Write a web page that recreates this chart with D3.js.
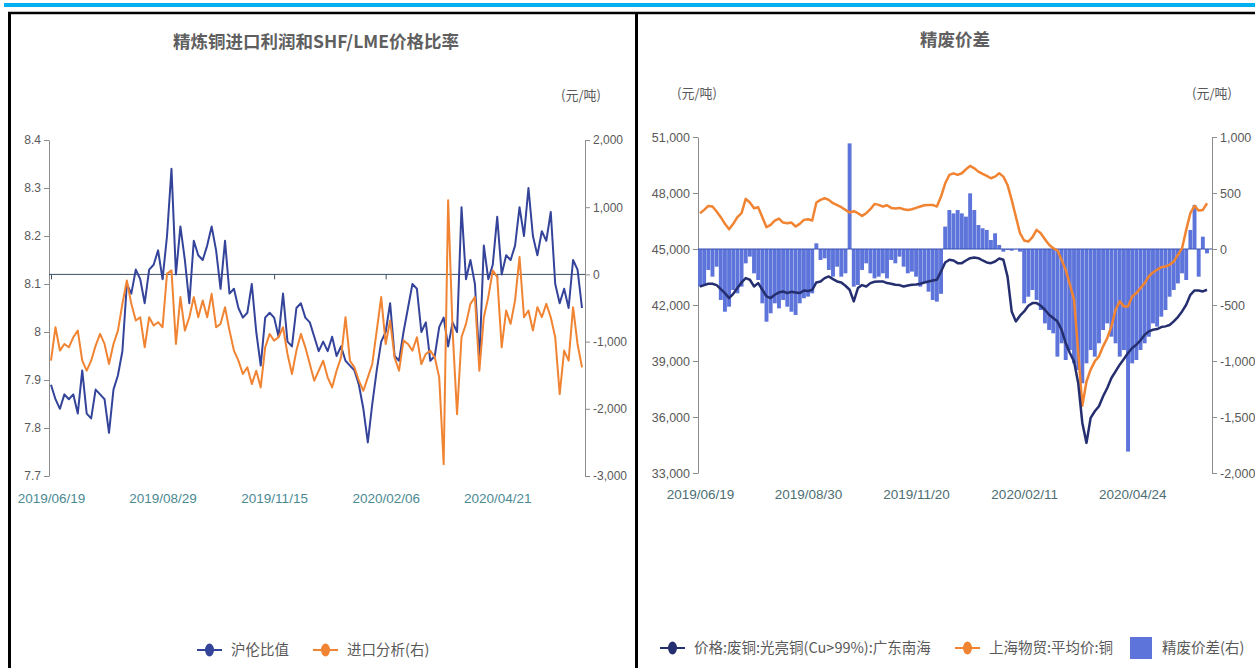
<!DOCTYPE html>
<html>
<head>
<meta charset="utf-8">
<title>精炼铜进口利润 / 精废价差</title>
<script src="https://cdn.jsdelivr.net/npm/d3@7/dist/d3.min.js"></script>
<style>
body { margin: 0; background: #fff; }
svg { display: block; font-family: "Liberation Sans", "Noto Sans CJK SC", sans-serif; }
.axis path, .axis line { stroke: #8c8c8c; }
.axis text { fill: #595959; }
.title { font-family: "Noto Sans CJK SC", sans-serif; font-weight: bold; fill: #5f5f5f; }
.unit, .legend text { font-family: "Noto Sans CJK SC", sans-serif; fill: #595959; }
</style>
</head>
<body>
<svg id="chart" width="1255" height="668"></svg>
<script>
// ---- left chart: 沪伦比值 / 进口分析 (every 2nd trading day)
var leftDates = ["2019/06/19", "2019/08/29", "2019/11/15", "2020/02/06", "2020/04/21"];
var leftDateIdx = [0, 25, 50, 75, 100];
var ratioTicks = [7.7, 7.8, 7.9, 8.0, 8.1, 8.2, 8.3, 8.4];
var profitTicks = [-3000, -2000, -1000, 0, 1000, 2000];

var ratio = [7.89,7.86,7.84,7.87,7.86,7.87,7.83,7.92,7.83,7.82,
  7.88,7.87,7.86,7.79,7.88,7.91,7.96,8.10,8.08,8.13,
  8.11,8.06,8.13,8.14,8.17,8.11,8.20,8.34,8.12,8.22,
  8.15,8.06,8.19,8.16,8.15,8.18,8.22,8.17,8.09,8.19,
  8.08,8.09,8.05,8.03,8.04,8.10,8.00,7.93,8.03,8.04,
  8.03,7.99,8.08,7.98,7.97,8.05,8.06,8.03,8.02,7.99,
  7.96,7.98,7.96,7.99,7.95,7.97,7.94,7.93,7.92,7.89,
  7.84,7.77,7.85,7.92,7.98,8.00,8.06,7.95,7.94,8.00,
  8.05,8.10,8.09,8.00,8.02,7.94,7.95,8.01,8.03,7.97,
  8.02,8.00,8.26,8.11,8.15,8.10,7.94,8.18,8.11,8.14,
  8.24,8.12,8.16,8.15,8.18,8.26,8.20,8.30,8.20,8.16,
  8.21,8.19,8.25,8.10,8.06,8.09,8.05,8.15,8.13,8.05];

var importProfit = [-1284,-786,-1134,-1035,-1085,-935,-836,-1284,-1433,-1284,
  -1060,-886,-1035,-1333,-1035,-836,-438,-90,-438,-686,
  -637,-1085,-637,-761,-711,-786,10,60,-1035,-338,
  -836,-637,-338,-637,-388,-637,-289,-786,-736,-488,
  -836,-1134,-1284,-1483,-1383,-1632,-1433,-1682,-1085,-886,
  -985,-935,-786,-1184,-1483,-1134,-886,-1085,-1333,-1582,
  -1433,-1284,-1532,-1682,-1433,-1234,-637,-1284,-1383,-1582,
  -1732,-1532,-1333,-836,-338,-1035,-686,-1234,-1433,-985,
  -1035,-1134,-935,-1333,-1184,-1134,-1234,-1532,-2826,1104,
  -836,-2080,-935,-736,-438,-338,-1433,-637,-338,60,
  -40,-1085,-537,-736,-388,259,-637,-537,-836,-488,
  -637,-438,-637,-935,-1781,-1134,-1284,-488,-1035,-1383];

// ---- right chart: 精废价差 (every 2nd trading day)
var rightDates = ["2019/06/19", "2019/08/30", "2019/11/20", "2020/02/11", "2020/04/24"];
var rightDateIdx = [0, 26, 52, 78, 104];
var priceTicks = [33000, 36000, 39000, 42000, 45000, 48000, 51000];
var spreadTicks = [-2000, -1500, -1000, -500, 0, 500, 1000];

var scrapPrice = [42994,43066,43137,43137,43066,42852,42638,42370,42602,42905,
  43208,43440,43351,42994,43173,42816,42459,42370,42548,42673,
  42727,42638,42709,42673,42638,42780,42745,42816,43208,43262,
  43440,43529,43386,43262,43208,43030,42816,42192,42905,43066,
  42994,43173,43244,43262,43262,43173,43137,43084,43066,42994,
  43048,43084,43101,43137,43208,43262,43315,43351,43797,44278,
  44421,44385,44242,44242,44385,44510,44545,44510,44385,44278,
  44242,44332,44492,44421,43529,41657,41122,41425,41657,41960,
  42103,42103,41960,41746,41479,41301,41122,40676,39963,39428,
  38983,37824,35684,34614,35951,36308,36575,37110,37556,38091,
  38448,38805,39107,39428,39696,39874,40106,40409,40587,40676,
  40712,40819,40855,40926,41122,41354,41657,42014,42548,42780,
  42780,42727,42816];

var copperAvg = [46917,47095,47309,47274,47006,46703,46347,46061,46347,46703,
  46917,47684,47488,47185,47238,46703,46168,46293,46525,46632,
  46418,46382,46418,46204,46347,46561,46596,46525,47488,47631,
  47720,47631,47452,47345,47238,47095,46953,47024,46917,46774,
  46917,47131,47416,47363,47274,47345,47202,47167,47202,47131,
  47095,47131,47202,47274,47345,47363,47363,47274,47809,48522,
  48967,49056,48967,49057,49270,49449,49324,49146,49021,48914,
  48789,48878,49057,48878,48432,47630,46738,45847,45455,45401,
  45633,46025,45847,45526,45223,45045,44920,44421,43886,43100,
  42300,39500,36600,37900,38537,38983,39250,39785,40231,40855,
  41746,42192,41925,41925,42459,42638,42905,43173,43529,43743,
  43886,44029,44064,44153,44331,44688,45045,46025,46917,47309,
  47060,47095,47452];

var spread = [-336,-321,-187,-247,-158,-455,-560,-515,-366,-396,
  -336,-128,-68,-217,-277,-485,-649,-574,-485,-530,
  -455,-515,-560,-589,-485,-440,-425,-396,51,-98,
  -83,-187,-247,-158,-247,-217,943,-336,-321,-187,
  -128,-217,-262,-247,-217,-262,-98,-128,-68,-158,
  -217,-202,-247,-336,-306,-381,-455,-470,-400,200,
  348,318,348,318,289,497,348,214,185,170,
  80,140,36,-24,-9,-15,-3,-24,-485,-426,
  -366,-455,-545,-664,-723,-753,-961,-842,-991,-902,
  -1021,-1080,-1199,-1021,-902,-961,-842,-723,-664,-783,
  -842,-961,-902,-1809,-1021,-991,-902,-842,-783,-664,
  -693,-604,-545,-426,-366,-307,-217,-277,170,393,
  -247,110,-39];

var BLUE = "#34449a", NAVY = "#252f70", ORANGE = "#f08432", BAR = "#5d74da";

var svg = d3.select("#chart");
var dash = function(d) { return d3.format(",")(d).replace("\u2212", "-"); };

// frame
svg.append("rect").attr("x", 4).attr("y", 3).attr("width", 1251).attr("height", 4).attr("fill", "#00b0f0");
svg.append("line").attr("x1", 8).attr("x2", 1255).attr("y1", 13).attr("y2", 13).attr("stroke", "#000").attr("stroke-width", 2.5);
svg.append("line").attr("x1", 9.5).attr("x2", 9.5).attr("y1", 12).attr("y2", 668).attr("stroke", "#000").attr("stroke-width", 3);
svg.append("line").attr("x1", 636.5).attr("x2", 636.5).attr("y1", 12).attr("y2", 668).attr("stroke", "#000").attr("stroke-width", 3);

function legendItem(g, x, y, color, label, square) {
  if (square) {
    g.append("rect").attr("x", x).attr("y", y - 11).attr("width", 22).attr("height", 22).attr("fill", color);
    g.append("text").attr("x", x + 32).attr("y", y + 5).attr("font-size", 14.5).text(label);
  } else {
    g.append("line").attr("x1", x).attr("x2", x + 25).attr("y1", y).attr("y2", y).attr("stroke", color).attr("stroke-width", 2);
    g.append("ellipse").attr("cx", x + 12.5).attr("cy", y).attr("rx", 4.5).attr("ry", 6.5).attr("fill", color);
    g.append("text").attr("x", x + 34).attr("y", y + 5).attr("font-size", 14.5).text(label);
  }
}

// ================= left chart
var xL = d3.scaleLinear().domain([0, ratio.length - 1]).range([51, 582]);
var yL1 = d3.scaleLinear().domain([7.7, 8.4]).range([476, 140]);
var yL2 = d3.scaleLinear().domain([-3000, 2000]).range([476, 140]);
var gL = svg.append("g");

gL.append("text").attr("class", "title").attr("x", 316).attr("y", 48).attr("text-anchor", "middle")
  .attr("font-size", 17.5).text("精炼铜进口利润和SHF/LME价格比率");
gL.append("text").attr("class", "unit").attr("x", 581).attr("y", 100).attr("text-anchor", "middle")
  .attr("font-size", 13).text("(元/吨)");

gL.append("g").attr("class", "axis").attr("transform", "translate(49,0)")
  .call(d3.axisLeft(yL1).tickValues(ratioTicks).tickSize(5).tickSizeOuter(0)
    .tickFormat(function(d) { return String(+d.toFixed(1)); }))
  .selectAll("text").attr("font-size", 12);
gL.append("g").attr("class", "axis").attr("transform", "translate(585,0)")
  .call(d3.axisRight(yL2).tickValues(profitTicks).tickSize(5).tickSizeOuter(0).tickFormat(dash))
  .selectAll("text").attr("font-size", 12);

// category axis on the zero line of the right scale
gL.append("g").attr("transform", "translate(0," + yL2(0) + ")")
  .call(d3.axisBottom(xL).tickValues(leftDateIdx).tickSize(5).tickSizeOuter(0).tickFormat(""))
  .call(function(g) {
    g.select(".domain").attr("stroke", "#3c4f63").attr("d", "M49,0H585");
    g.selectAll("line").attr("stroke", "#3c4f63");
  });
gL.append("g").attr("transform", "translate(0,490)")
  .call(d3.axisBottom(xL).tickValues(leftDateIdx).tickSize(0)
    .tickFormat(function(d, i) { return leftDates[i]; }))
  .call(function(g) {
    g.select(".domain").remove();
    g.selectAll("text").attr("fill", "#4b8a93").attr("font-size", 13.5);
  });

gL.append("path").datum(ratio).attr("fill", "none").attr("stroke", BLUE).attr("stroke-width", 2)
  .attr("stroke-linejoin", "round")
  .attr("d", d3.line().x(function(d, i) { return xL(i); }).y(function(d) { return yL1(d); }));
gL.append("path").datum(importProfit).attr("fill", "none").attr("stroke", ORANGE).attr("stroke-width", 2)
  .attr("stroke-linejoin", "round")
  .attr("d", d3.line().x(function(d, i) { return xL(i); }).y(function(d) { return yL2(d); }));

var legL = gL.append("g").attr("class", "legend");
legendItem(legL, 197, 650, BLUE, "沪伦比值");
legendItem(legL, 313, 650, ORANGE, "进口分析(右)");

// ================= right chart
var xR = d3.scaleLinear().domain([0, spread.length - 1]).range([700, 1207]);
var yR1 = d3.scaleLinear().domain([33000, 51000]).range([473, 137]);
var yR2 = d3.scaleLinear().domain([-2000, 1000]).range([473, 137]);
var gR = svg.append("g");

gR.append("text").attr("class", "title").attr("x", 955).attr("y", 46).attr("text-anchor", "middle")
  .attr("font-size", 17.5).text("精废价差");
gR.append("text").attr("class", "unit").attr("x", 697).attr("y", 98).attr("text-anchor", "middle")
  .attr("font-size", 13).text("(元/吨)");
gR.append("text").attr("class", "unit").attr("x", 1212).attr("y", 98).attr("text-anchor", "middle")
  .attr("font-size", 13).text("(元/吨)");

gR.append("g").attr("class", "axis").attr("transform", "translate(698,0)")
  .call(d3.axisLeft(yR1).tickValues(priceTicks).tickSize(5).tickSizeOuter(0).tickFormat(dash))
  .selectAll("text").attr("font-size", 12.5);
gR.append("g").attr("class", "axis").attr("transform", "translate(1212,0)")
  .call(d3.axisRight(yR2).tickValues(spreadTicks).tickSize(5).tickSizeOuter(0).tickFormat(dash))
  .selectAll("text").attr("font-size", 12.5);

gR.append("g").attr("transform", "translate(0,486)")
  .call(d3.axisBottom(xR).tickValues(rightDateIdx).tickSize(0)
    .tickFormat(function(d, i) { return rightDates[i]; }))
  .call(function(g) {
    g.select(".domain").remove();
    g.selectAll("text").attr("fill", "#4d6e72").attr("font-size", 13.5);
  });

var bw = 3.9;
gR.append("g").selectAll("rect").data(spread).join("rect")
  .attr("x", function(d, i) { return xR(i) - bw / 2; })
  .attr("y", function(d) { return yR2(Math.max(0, d)); })
  .attr("width", bw)
  .attr("height", function(d) { return Math.abs(yR2(d) - yR2(0)); })
  .attr("fill", BAR);

gR.append("line").attr("x1", 698).attr("x2", 1212).attr("y1", yR2(0)).attr("y2", yR2(0))
  .attr("stroke", "#3a50b0").attr("stroke-width", 1.2);

gR.append("path").datum(copperAvg).attr("fill", "none").attr("stroke", ORANGE).attr("stroke-width", 2.5)
  .attr("stroke-linejoin", "round")
  .attr("d", d3.line().x(function(d, i) { return xR(i); }).y(function(d) { return yR1(d); }));
gR.append("path").datum(scrapPrice).attr("fill", "none").attr("stroke", NAVY).attr("stroke-width", 2.5)
  .attr("stroke-linejoin", "round")
  .attr("d", d3.line().x(function(d, i) { return xR(i); }).y(function(d) { return yR1(d); }));

var legR = gR.append("g").attr("class", "legend");
legendItem(legR, 660, 648, NAVY, "价格:废铜:光亮铜(Cu>99%):广东南海");
legendItem(legR, 955, 648, ORANGE, "上海物贸:平均价:铜");
legendItem(legR, 1130, 648, BAR, "精废价差(右)", true);
</script>
</body>
</html>
